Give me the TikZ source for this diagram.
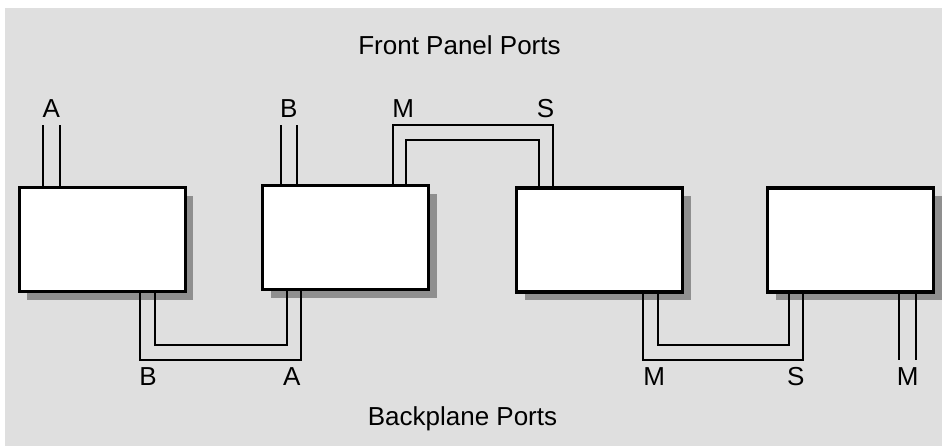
\documentclass[tikz,border=0pt]{standalone}
\usepackage{fontspec}
\setmainfont{Liberation Sans}
\usetikzlibrary{shadows}
\definecolor{panelgray}{HTML}{DFDFDF}
\definecolor{shadowgray}{HTML}{8F8F8F}

\begin{document}
\begin{tikzpicture}[
  x=1pt, y=-1pt,
  card/.style={draw=black, fill=white, line width=3.4pt, inner sep=0pt,
    minimum width=166pt, minimum height=104pt,
    drop shadow={shadow xshift=8pt, shadow yshift=-8pt, fill=shadowgray, opacity=1}},
  wire/.style={draw=black, line width=2.2pt},
  port/.style={font=\fontsize{26}{30}\selectfont, anchor=base, inner sep=7pt,
    text height=18.5pt, text depth=0pt},
  title/.style={font=\fontsize{26}{30}\selectfont, anchor=base}
]
\useasboundingbox (0,0) rectangle (942,446);
\fill[panelgray] (5,8) rectangle (942,446);

\node[title] (front) at (459.5,55) {Front Panel Ports};
\node[title] (back) at (462.5,425) {Backplane Ports};

\node[card] (c1) at (102.2,239.7) {};
\node[card] (c2) at (345.7,237.8) {};
\node[card] (c3) at (599.7,240) {};
\node[card] (c4) at (850.7,240) {};

\node[port] (fA) at (51.4,118) {A};
\node[port] (fB) at (288.7,118) {B};
\node[port] (fM) at (403.3,118) {M};
\node[port] (fS) at (545.5,118) {S};

\node[port] (bB) at (148,385.5) {B};
\node[port] (bA) at (291.7,385.5) {A};
\node[port] (bM) at (654.3,385.5) {M};
\node[port] (bS) at (795.8,385.5) {S};
\node[port] (bM2) at (907.7,385.5) {M};

\coordinate (fS2) at ([yshift=-15pt]fS.south);
\coordinate (bA2) at ([yshift=15pt]bA.north);
\coordinate (bS2) at ([yshift=15pt]bS.north);

\foreach \x in {43,59.7} \draw[wire] (c1.north -| \x,0) -- (fA.south -| \x,0);
\foreach \x in {280.7,296.7} \draw[wire] (c2.north -| \x,0) -- (fB.south -| \x,0);
\draw[wire] (c2.north -| 393.3,0) |- (fS.south -| 552.7,0) -- (c3.north -| 552.7,0);
\draw[wire] (c2.north -| 406.3,0) |- (fS2 -| 539,0) -- (c3.north -| 539,0);

\draw[wire] (c1.south -| 140.3,0) |- (bB.north -| 301,0) -- (c2.south -| 301,0);
\draw[wire] (c1.south -| 155,0) |- (bA2 -| 286.7,0) -- (c2.south -| 286.7,0);
\draw[wire] (c3.south -| 643.3,0) |- (bM.north -| 803.3,0) -- (c4.south -| 803.3,0);
\draw[wire] (c3.south -| 658.3,0) |- (bS2 -| 789,0) -- (c4.south -| 789,0);
\foreach \x in {899.3,916} \draw[wire] (c4.south -| \x,0) -- (bM2.north -| \x,0);

\end{tikzpicture}
\end{document}
